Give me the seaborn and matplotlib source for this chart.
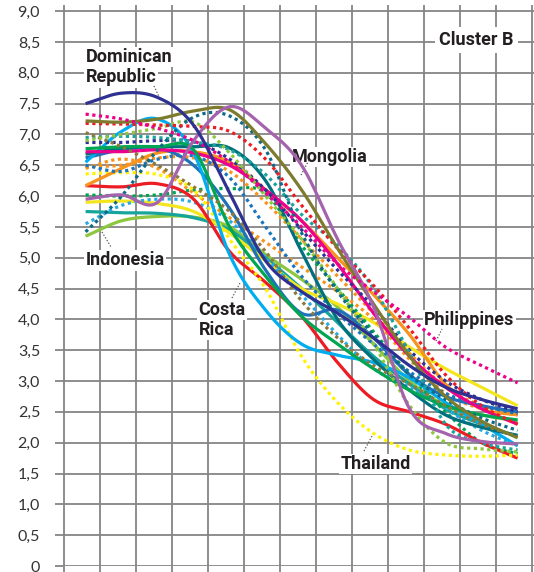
import numpy as np
import pandas as pd
import matplotlib
matplotlib.use("Agg")
import matplotlib.pyplot as plt
import seaborn as sns

sns.set_theme(style="white")
plt.rcParams['font.family'] = ['Lato', 'DejaVu Sans']

# ---------------- data ----------------
years = [1953, 1958, 1963, 1968, 1973, 1978, 1983, 1988, 1993, 1998, 2003, 2008, 2013]

dominican_republic = [7.50, 7.67, 7.60, 7.15, 6.05, 4.95, 4.45, 4.10, 3.70, 3.25, 2.90, 2.70, 2.55]
philippines        = [7.33, 7.25, 7.10, 6.90, 6.55, 6.05, 5.50, 4.90, 4.45, 4.03, 3.55, 3.25, 2.97]
olive_solid        = [7.22, 7.20, 7.25, 7.38, 7.40, 6.85, 6.10, 5.15, 4.25, 3.40, 2.75, 2.35, 2.08]
red_dotted         = [7.18, 7.17, 7.15, 7.13, 7.05, 6.60, 5.85, 5.15, 4.55, 3.85, 3.10, 2.60, 2.30]
olive_dotted       = [7.03, 6.80, 6.50, 6.15, 5.75, 5.10, 4.30, 3.70, 3.25, 2.95, 2.60, 2.30, 2.10]
teal_dotted        = [6.95, 6.97, 6.95, 6.88, 6.75, 6.35, 5.70, 5.20, 4.50, 3.45, 2.30, 2.00, 1.88]
green_solid        = [6.77, 6.80, 6.80, 6.75, 5.50, 4.70, 4.05, 3.60, 3.20, 2.85, 2.60, 2.45, 2.37]
navy_dotted        = [6.87, 6.87, 6.90, 6.88, 6.60, 6.10, 5.45, 4.80, 4.20, 3.50, 3.00, 2.70, 2.50]
magenta_solid      = [6.72, 6.72, 6.75, 6.70, 6.50, 6.10, 5.60, 4.90, 4.10, 3.40, 2.90, 2.55, 2.30]
darkteal_solid     = [6.68, 6.78, 6.80, 6.80, 6.78, 6.25, 5.10, 4.00, 3.35, 2.85, 2.45, 2.25, 2.12]
costa_rica         = [6.55, 7.05, 7.25, 6.70, 5.05, 4.15, 3.60, 3.42, 3.30, 3.05, 2.65, 2.30, 1.95]
blue_dotted        = [6.50, 6.40, 6.60, 6.65, 6.30, 5.50, 4.70, 4.10, 3.60, 3.15, 2.80, 2.60, 2.47]
orange_dotted_a    = [6.48, 6.50, 6.62, 6.62, 6.40, 5.90, 5.30, 4.70, 4.10, 3.45, 2.90, 2.60, 2.46]
orange_dotted_b    = [6.45, 6.60, 6.45, 6.05, 5.65, 5.25, 4.85, 4.45, 4.00, 3.35, 2.80, 2.55, 2.45]
orange_solid       = [6.17, 6.45, 6.70, 6.72, 6.55, 6.10, 5.60, 5.00, 4.40, 3.75, 2.95, 2.55, 2.45]
thailand           = [6.36, 6.38, 6.35, 6.10, 5.30, 4.50, 3.40, 2.65, 2.15, 1.88, 1.80, 1.78, 1.80]
red_solid          = [6.17, 6.15, 6.20, 5.95, 5.10, 4.60, 4.05, 3.30, 2.70, 2.50, 2.30, 2.00, 1.75]
green_dotted       = [6.02, 6.00, 6.02, 6.10, 6.12, 6.05, 5.20, 4.50, 3.80, 3.10, 2.50, 2.00, 1.82]
mongolia           = [5.95, 6.02, 5.90, 6.90, 7.45, 7.10, 6.50, 5.30, 4.20, 2.55, 2.15, 2.02, 1.98]
yellow_solid       = [5.90, 5.92, 5.88, 5.75, 5.40, 4.95, 4.50, 4.25, 3.95, 3.55, 3.20, 2.90, 2.60]
teal_solid         = [5.75, 5.73, 5.72, 5.65, 5.45, 5.00, 4.50, 3.95, 3.40, 2.95, 2.55, 2.30, 2.10]
lightblue_dotted   = [5.55, 5.85, 5.95, 5.90, 5.60, 5.00, 4.40, 3.75, 3.20, 2.90, 2.55, 2.20, 1.95]
darkteal_dotted    = [5.42, 6.00, 6.75, 7.28, 7.30, 6.75, 5.40, 4.45, 3.75, 3.10, 2.70, 2.40, 2.20]
indonesia          = [5.35, 5.60, 5.67, 5.66, 5.50, 5.05, 4.65, 4.20, 3.60, 3.00, 2.60, 2.45, 2.35]
lightgreen_dotted  = [6.90, 7.00, 7.10, 7.20, 6.70, 6.00, 5.30, 4.50, 3.60, 2.60, 2.00, 1.90, 1.85]
blue_solid         = [6.62, 6.75, 6.78, 6.50, 5.80, 4.80, 4.10, 4.15, 3.70, 3.10, 2.75, 2.60, 2.50]

series = [
    ("Indonesia", indonesia, "#8dc63f", "solid"),
    ("teal solid", teal_solid, "#16a59b", "solid"),
    ("yellow solid", yellow_solid, "#f4e61e", "solid"),
    ("light blue dotted", lightblue_dotted, "#29abe2", "dot"),
    ("green dotted", green_dotted, "#00a651", "dot"),
    ("red solid", red_solid, "#ed1c24", "solid"),
    ("orange dotted b", orange_dotted_b, "#f7941d", "dot"),
    ("Thailand", thailand, "#fff200", "dot"),
    ("orange solid", orange_solid, "#f7941d", "solid"),
    ("orange dotted a", orange_dotted_a, "#f7941d", "dot"),
    ("blue dotted", blue_dotted, "#1c75bc", "dot"),
    ("blue solid", blue_solid, "#1f72b8", "solid"),
    ("Costa Rica", costa_rica, "#00aeef", "solid"),
    ("dark teal solid", darkteal_solid, "#00707f", "solid"),
    ("magenta solid", magenta_solid, "#ec008c", "solid"),
    ("navy dotted", navy_dotted, "#2e3192", "dot"),
    ("green solid", green_solid, "#00a651", "solid"),
    ("teal dotted", teal_dotted, "#1ba39c", "dot"),
    ("olive dotted", olive_dotted, "#8c7a3c", "dot"),
    ("light green dotted", lightgreen_dotted, "#8dc63f", "dot"),
    ("dark teal dotted", darkteal_dotted, "#0e6b87", "dot"),
    ("red dotted", red_dotted, "#ed1c24", "dot"),
    ("olive solid", olive_solid, "#7d7b2e", "solid"),
    ("Mongolia", mongolia, "#a562ad", "solid"),
    ("Philippines", philippines, "#ec008c", "dot"),
    ("Dominican Republic", dominican_republic, "#2e3192", "solid"),
]

yticks = [0, 0.5, 1.0, 1.5, 2.0, 2.5, 3.0, 3.5, 4.0, 4.5, 5.0, 5.5, 6.0, 6.5, 7.0, 7.5, 8.0, 8.5, 9.0]
ytick_labels = ["0", "0,5", "1,0", "1,5", "2,0", "2,5", "3,0", "3,5", "4,0", "4,5",
                "5,0", "5,5", "6,0", "6,5", "7,0", "7,5", "8,0", "8,5", "9,0"]
xgrid = list(range(1950, 2016, 5))


def catmull_rom(x, y, n=20):
    x = np.asarray(x, float)
    y = np.asarray(y, float)
    p = np.concatenate([[2 * y[0] - y[1]], y, [2 * y[-1] - y[-2]]])
    xs, ys = [], []
    for i in range(len(y) - 1):
        t = np.linspace(0, 1, n, endpoint=False)
        p0, p1, p2, p3 = p[i], p[i + 1], p[i + 2], p[i + 3]
        seg = 0.5 * ((2 * p1) + (-p0 + p2) * t + (2 * p0 - 5 * p1 + 4 * p2 - p3) * t ** 2
                     + (-p0 + 3 * p1 - 3 * p2 + p3) * t ** 3)
        xs.append(x[i] + (x[i + 1] - x[i]) * t)
        ys.append(seg)
    xs.append([x[-1]])
    ys.append([y[-1]])
    return np.concatenate(xs), np.concatenate(ys)


# ---------------- figure ----------------
W, H = 534, 572
fig = plt.figure(figsize=(W / 100, H / 100), dpi=100)
ax = fig.add_axes([63 / W, 6 / H, (534 - 63) / W, (566 - 5) / H])

grid_col = "#858585"
for name, vals, col, style in series:
    sx, sy = catmull_rom(years, vals)
    df = pd.DataFrame({"year": sx, "value": sy})
    sns.lineplot(data=df, x="year", y="value", color=col, ax=ax, sort=False,
                 estimator=None, lw=2.3, zorder=3)
    ln = ax.lines[-1]
    if style == "dot":
        ln.set_linestyle((0, (1.0, 1.1)))
        ln.set_dash_capstyle("butt")
    ln.set_solid_capstyle("butt")

ax.set_xlim(1950 - 1 / 7.2, 1950 + (534 - 64) / 7.2)
ax.set_ylim(0, 9.1)
ax.set_xticks(xgrid)
ax.set_xticklabels([])
ax.set_yticks(yticks)
ax.set_yticklabels(ytick_labels)
ax.grid(True, color=grid_col, lw=1.3, zorder=1)
ax.set_axisbelow(True)
for s in ax.spines.values():
    s.set_visible(False)
ax.tick_params(axis="both", direction="out", length=6, width=1.3, color=grid_col,
               bottom=True, left=True)
ax.tick_params(axis="y", pad=10.5, labelsize=11.5, labelcolor="#333333")
ax.set_xlabel("")
ax.set_ylabel("")

lab_font = dict(family=["Roboto", "DejaVu Sans"], fontweight="bold",
                fontsize=13, color="#231f20", zorder=2)
box = dict(facecolor="white", edgecolor="none", pad=1.0)

labels = [
    ("Dominican", 1953.0, 8.175),
    ("Republic", 1953.0, 7.85),
    ("Indonesia", 1953.0, 4.88),
    ("Mongolia", 1981.6, 6.553),
    ("Costa", 1968.7, 4.071),
    ("Rica", 1968.7, 3.747),
    ("Philippines", 2000.0, 3.909),
    ("Thailand", 1988.4, 1.573),
]
for txt, x, y in labels:
    ax.text(x, y, txt, ha="left", va="baseline", bbox=box, **lab_font)

ax.text(2002.1, 8.451, "Cluster B", ha="left", va="baseline",
        bbox=dict(facecolor="white", edgecolor="none", pad=3.0), **lab_font)

leaders = [
    ((1962.5, 1963.3), (7.786, 7.59)),
    ((1955.28, 1956.53), (5.418, 5.174)),
    ((1982.92, 1984.03), (6.342, 6.586)),
    ((1973.33, 1974.44), (4.347, 4.590)),
    ((2001.67, 2002.5), (3.650, 3.844)),
    ((1991.67, 1992.78), (1.865, 2.109)),
]
for lx, ly in leaders:
    ax.plot(lx, ly, color="#555555", lw=0.9, ls=(0, (1, 1.5)), zorder=2.5)

fig.savefig("out.png", dpi=100)
